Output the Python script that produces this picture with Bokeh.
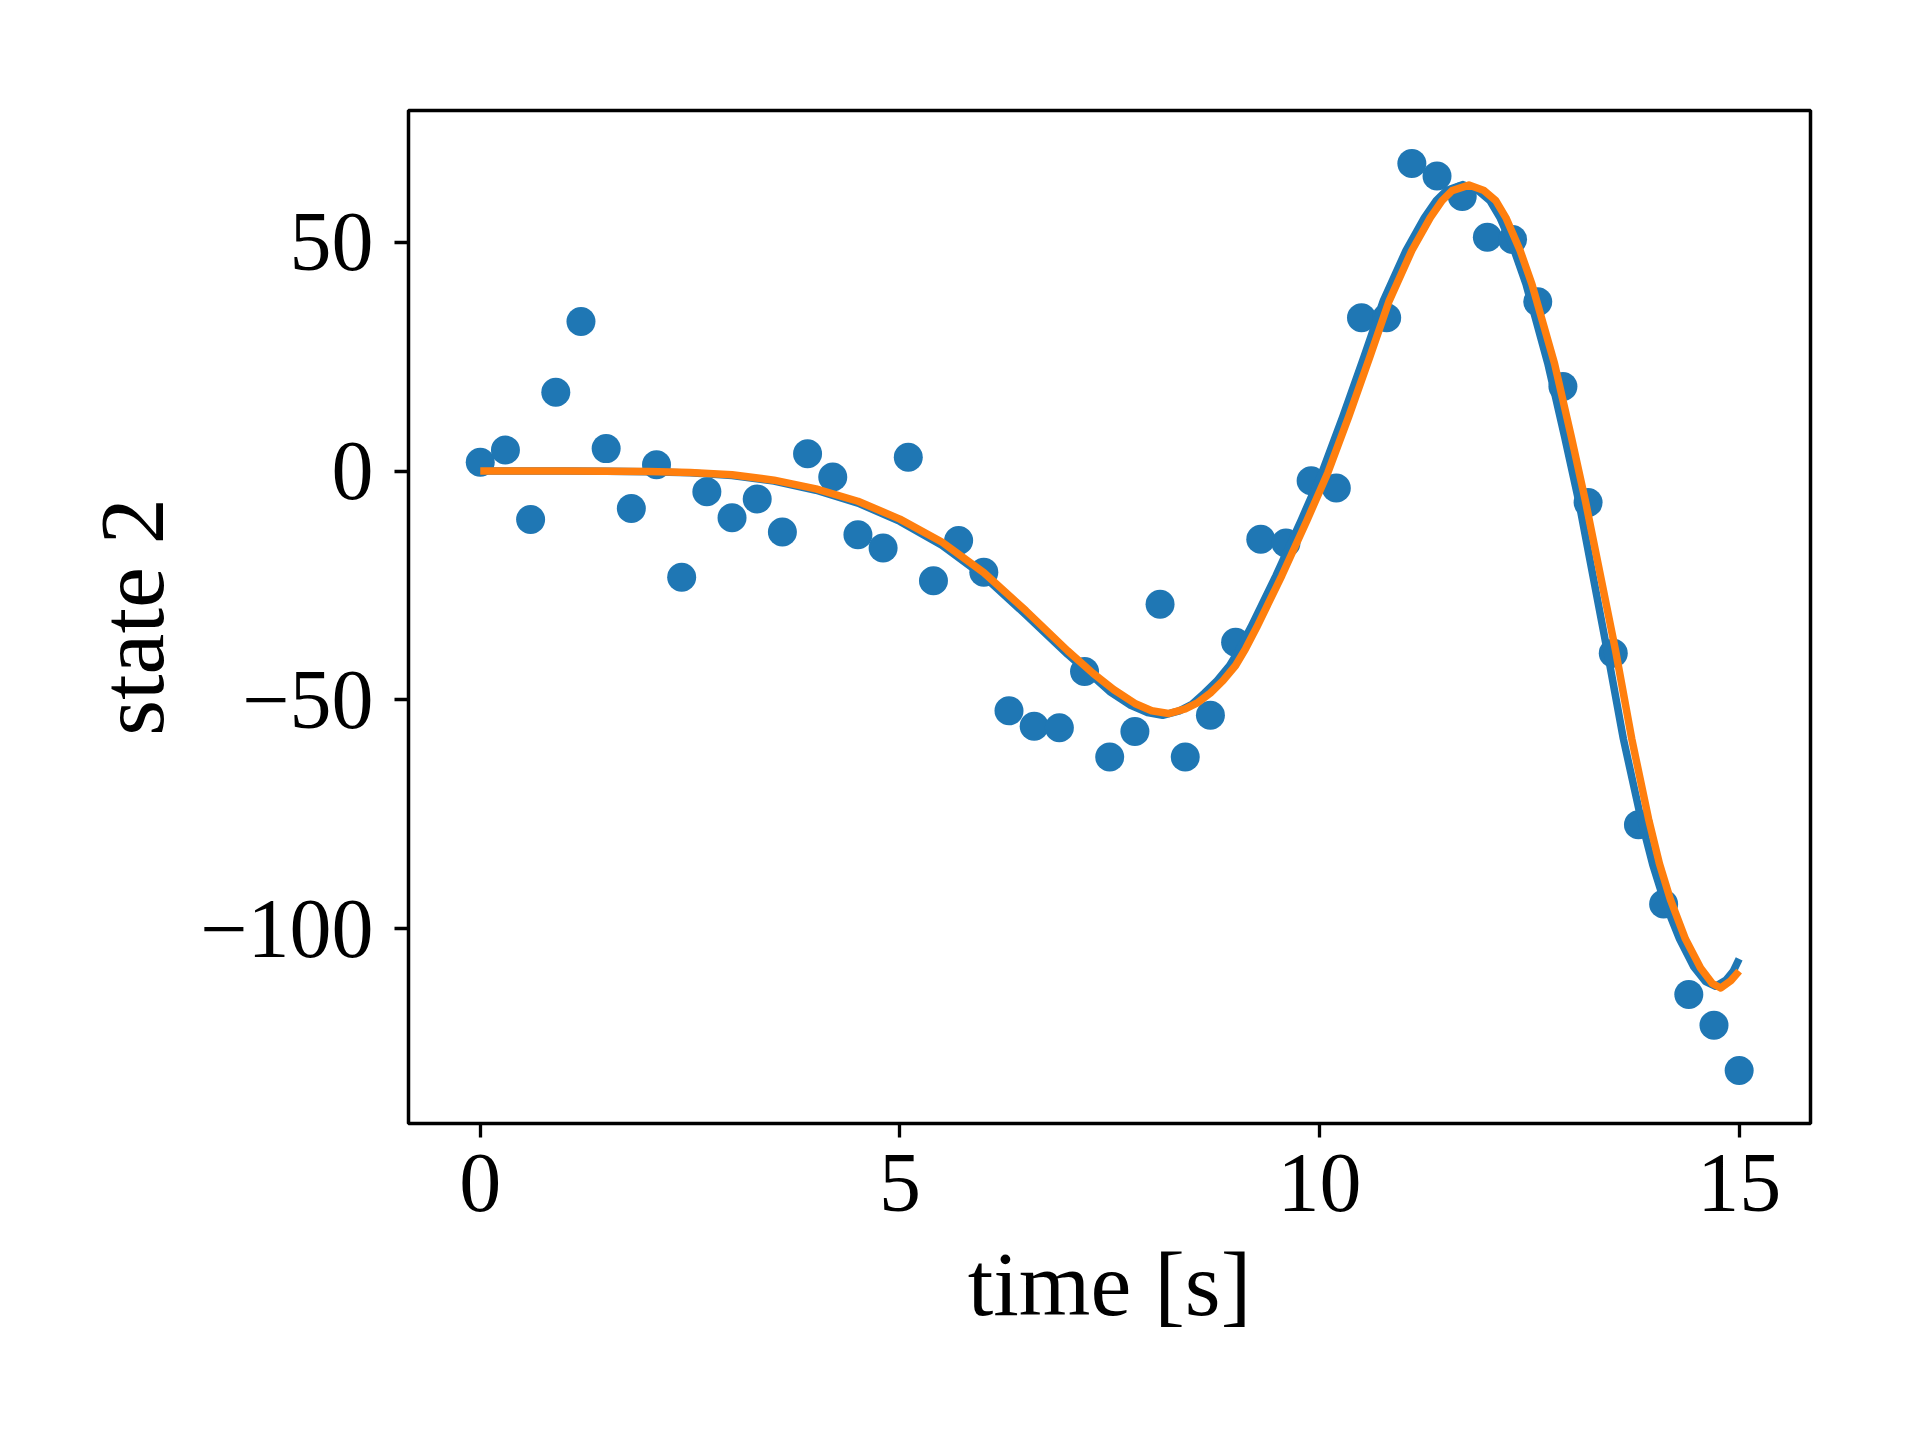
from bokeh.plotting import figure
from bokeh.models import Range1d, FixedTicker
from bokeh.embed import file_html
from bokeh.resources import INLINE

# measured data points (state 2 vs time)
t_points = [0.0, 0.3, 0.6, 0.9, 1.2, 1.5, 1.8, 2.1, 2.4, 2.7, 3.0, 3.3, 3.6, 3.9, 4.2,
            4.5, 4.8, 5.1, 5.4, 5.7, 6.0, 6.3, 6.6, 6.9, 7.2, 7.5, 7.8, 8.1, 8.4, 8.7,
            9.0, 9.3, 9.6, 9.9, 10.2, 10.5, 10.8, 11.1, 11.4, 11.7, 12.0, 12.3, 12.6,
            12.9, 13.2, 13.5, 13.8, 14.1, 14.4, 14.7, 15.0]
y_points = [1.9, 4.6, -10.6, 17.2, 32.7, 4.9, -8.2, 1.4, -23.2, -4.5, -10.2, -6.1, -13.3,
            3.8, -1.3, -13.9, -16.8, 3.0, -24.0, -15.2, -22.1, -52.4, -55.8, -56.1, -43.8,
            -62.5, -56.9, -29.1, -62.5, -53.4, -37.4, -14.9, -15.7, -2.1, -3.7, 33.5, 33.5,
            67.2, 64.5, 60.0, 51.1, 50.6, 37.0, 18.5, -6.9, -39.8, -77.3, -94.6, -114.4,
            -121.1, -131.0]

# blue fitted curve
t_blue = [0, 0.5, 1.0, 1.5, 2.0, 2.5, 3.0, 3.5, 4.0, 4.5, 5.0, 5.5, 6.0, 6.5, 7.0, 7.3,
          7.5, 7.75, 7.95, 8.13, 8.33, 8.48, 8.63, 8.78, 8.93, 9.05, 9.18, 9.48, 9.78,
          10.03, 10.28, 10.53, 10.76, 11.03, 11.25, 11.39, 11.51, 11.71, 11.89, 12.03,
          12.15, 12.32, 12.46, 12.72, 12.92, 13.09, 13.43, 13.62, 13.83, 13.97, 14.1,
          14.29, 14.46, 14.6, 14.72, 14.84, 14.93, 15.0]
y_blue = [0, 0, 0, -0.05, -0.15, -0.4, -1.0, -2.2, -4.2, -7.0, -11.0, -16.2, -23.0, -31.4,
          -40.1, -44.9, -48.2, -51.2, -52.8, -53.4, -52.4, -51.0, -48.5, -45.8, -42.5,
          -38.8, -34.2, -22.9, -10.8, -0.3, 12.0, 25.0, 37.2, 48.2, 55.4, 59.1, 61.3, 62.6,
          61.3, 59.1, 55.4, 48.2, 40.9, 23.5, 7.5, -6.7, -39.5, -58.5, -76.0, -86.0, -93.6,
          -102.3, -108.4, -111.6, -112.6, -111.3, -109.3, -106.6]

# orange fitted curve
t_orange = [0, 0.5, 1.0, 1.5, 2.0, 2.5, 3.0, 3.5, 4.0, 4.5, 5.0, 5.5, 6.0, 6.5, 7.0, 7.3,
            7.55, 7.8, 8.0, 8.2, 8.4, 8.55, 8.7, 8.85, 9.0, 9.12, 9.25, 9.55, 9.85, 10.1,
            10.35, 10.6, 10.83, 11.1, 11.32, 11.46, 11.58, 11.78, 11.96, 12.1, 12.22,
            12.39, 12.53, 12.8, 13.0, 13.17, 13.53, 13.72, 13.92, 14.05, 14.18, 14.36,
            14.54, 14.68, 14.78, 14.9, 15.0]
y_orange = [0, 0, 0, -0.05, -0.1, -0.3, -0.8, -2.0, -3.9, -6.6, -10.5, -15.5, -22.2, -30.5,
            -39.3, -44.2, -47.8, -50.8, -52.4, -53.0, -52.0, -50.6, -48.5, -45.8, -42.5,
            -38.8, -34.2, -22.9, -10.8, -0.3, 12.0, 25.0, 37.2, 48.2, 55.4, 59.1, 61.3, 62.5,
            61.3, 59.1, 55.4, 48.2, 40.9, 23.5, 7.5, -6.7, -39.5, -58.5, -76.0, -85.8,
            -93.6, -102.3, -108.6, -112.0, -113.0, -111.4, -109.3]

x_ticks = [0, 5, 10, 15]
x_tick_labels = ["0", "5", "10", "15"]
y_ticks = [-100, -50, 0, 50]
y_tick_labels = ["\u2212100", "\u221250", "0", "50"]

FONT = "Liberation Serif"

p = figure(frame_width=1402, frame_height=1013,
           min_border_left=408, min_border_right=102,
           min_border_top=110, min_border_bottom=301,
           x_range=Range1d(-0.855, 15.85), y_range=Range1d(-142.6, 78.8),
           output_backend="svg", toolbar_location=None,
           x_axis_label="time [s]", y_axis_label="state 2")

p.grid.visible = False
p.background_fill_color = "white"
p.border_fill_color = "white"
p.outline_line_color = "black"
p.outline_line_width = 3.5

p.scatter(t_points, y_points, size=29, color="#1f77b4", line_color=None)
p.line(t_blue, y_blue, line_color="#1f77b4", line_width=7.5, line_join="round")
p.line(t_orange, y_orange, line_color="#ff7f0e", line_width=7.5, line_join="round")

p.xaxis.ticker = FixedTicker(ticks=x_ticks)
p.xaxis.major_label_overrides = dict(zip(x_ticks, x_tick_labels))
p.yaxis.ticker = FixedTicker(ticks=y_ticks)
p.yaxis.major_label_overrides = dict(zip(y_ticks, y_tick_labels))

for ax in (p.xaxis[0], p.yaxis[0]):
    ax.axis_line_color = None
    ax.major_tick_line_color = "black"
    ax.major_tick_line_width = 3.3
    ax.major_tick_out = 14
    ax.major_tick_in = 0
    ax.minor_tick_line_color = None
    ax.major_label_text_font = FONT
    ax.major_label_text_font_size = "84px"
    ax.major_label_text_color = "black"
    ax.axis_label_text_font = FONT
    ax.axis_label_text_font_size = "92px"
    ax.axis_label_text_font_style = "normal"
    ax.axis_label_text_color = "black"

p.xaxis.major_label_standoff = 17
p.xaxis.axis_label_standoff = 19
p.yaxis.major_label_standoff = 21
p.yaxis.axis_label_standoff = 14

open("out.html", "w").write(file_html(p, INLINE))
